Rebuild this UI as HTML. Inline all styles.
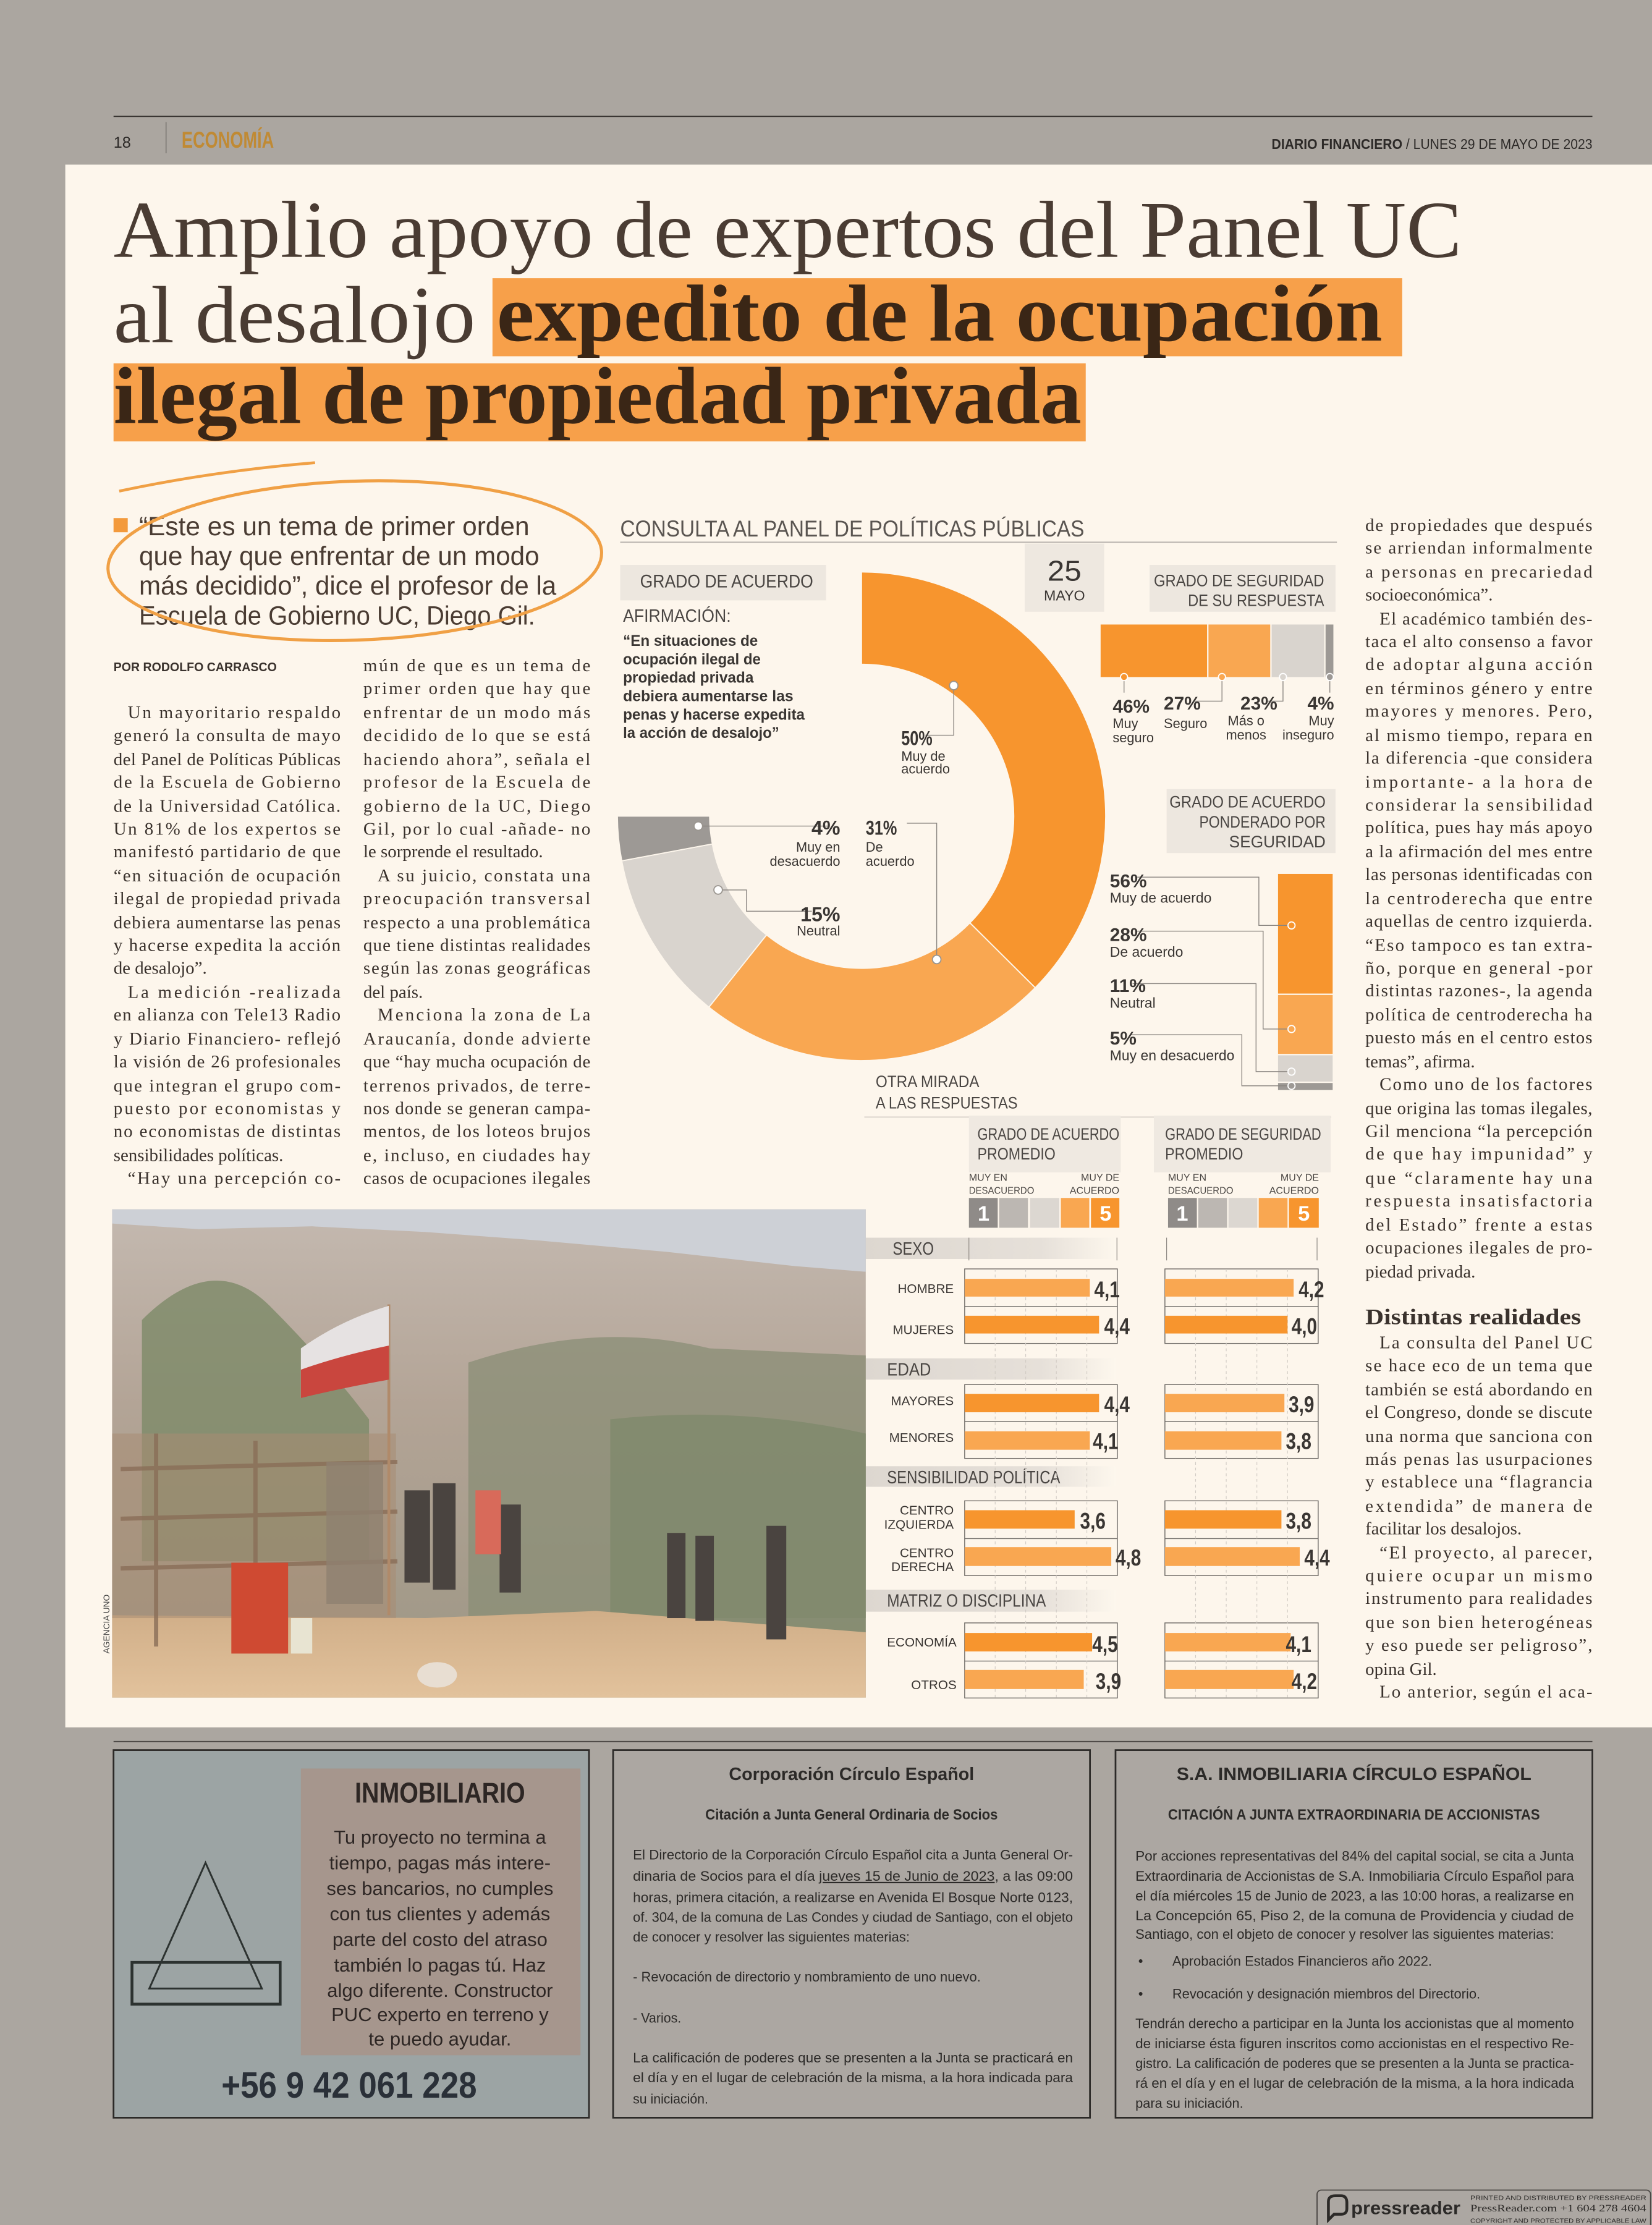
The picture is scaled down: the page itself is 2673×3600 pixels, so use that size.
<!DOCTYPE html>
<html><head><meta charset="utf-8"><style>
html,body{margin:0;padding:0;background:#aba6a0;}
svg{display:block}
.b{font-family:"Liberation Serif",serif;font-size:12.6px;fill:#3a322d}
.s{font-family:"Liberation Sans",sans-serif}
.ad{font-family:"Liberation Sans",sans-serif;font-size:9.6px;fill:#2c2a28}
</style></head><body>
<svg width="2673" height="3600" viewBox="0 0 1164 1567.6" preserveAspectRatio="none" xmlns="http://www.w3.org/2000/svg">
<defs>
<linearGradient id="band" x1="0" x2="1" y1="0" y2="0"><stop offset="0" stop-color="#ddd7d0"/><stop offset="0.7" stop-color="#e6e0d9"/><stop offset="1" stop-color="#fdf7ed"/></linearGradient>
<linearGradient id="hill" x1="0" x2="0" y1="0" y2="1"><stop offset="0" stop-color="#c4b9b0"/><stop offset="0.4" stop-color="#b3a496"/><stop offset="1" stop-color="#9c9684"/></linearGradient>
<linearGradient id="dirt" x1="0" x2="0" y1="0" y2="1"><stop offset="0" stop-color="#d0ae88"/><stop offset="1" stop-color="#e2c29c"/></linearGradient>
</defs>
<rect x="0" y="0" width="1164" height="1567.6" fill="#aba6a0"/>
<!-- header -->
<line x1="80" y1="82" x2="1122" y2="82" stroke="#3a3633" stroke-width="0.8"/>
<text x="80" y="104" class="s" font-size="11" fill="#2d2a28">18</text>
<line x1="117" y1="86" x2="117" y2="108" stroke="#6e6a66" stroke-width="0.6"/>
<text x="128" y="104" class="s" font-size="16" font-weight="bold" fill="#c08a34" textLength="65" lengthAdjust="spacingAndGlyphs">ECONOMÍA</text>
<text x="1122" y="105" class="s" font-size="10" fill="#2d2a28" text-anchor="end" textLength="226" lengthAdjust="spacingAndGlyphs"><tspan font-weight="bold">DIARIO FINANCIERO</tspan> / LUNES 29 DE MAYO DE 2023</text>
<!-- cream panel -->
<rect x="46" y="116" width="1118" height="1101" fill="#fdf6ec"/>
<!-- headline -->
<rect x="347" y="196" width="641" height="55" fill="#f7a04a"/>
<rect x="80" y="256" width="685" height="55" fill="#f7a04a"/>
<text x="80" y="181" font-family="Liberation Serif,serif" font-size="57" fill="#4a3c33" textLength="950" lengthAdjust="spacingAndGlyphs">Amplio apoyo de expertos del Panel UC</text>
<text x="80" y="241" font-family="Liberation Serif,serif" font-size="57" fill="#4a3c33" textLength="255" lengthAdjust="spacingAndGlyphs">al desalojo</text>
<text x="350" y="240" font-family="Liberation Serif,serif" font-size="57" font-weight="bold" fill="#3a2616" textLength="624" lengthAdjust="spacingAndGlyphs">expedito de la ocupación</text>
<text x="80" y="298" font-family="Liberation Serif,serif" font-size="57" font-weight="bold" fill="#3a2616" textLength="682" lengthAdjust="spacingAndGlyphs">ilegal de propiedad privada</text>
<!-- quote -->
<rect x="80" y="365" width="10" height="10" fill="#f39a3c"/>
<g class="s" font-size="18.5" fill="#4a3c33">
<text x="98" y="377" textLength="275" lengthAdjust="spacingAndGlyphs">“Este es un tema de primer orden</text>
<text x="98" y="398" textLength="282" lengthAdjust="spacingAndGlyphs">que hay que enfrentar de un modo</text>
<text x="98" y="419" textLength="294" lengthAdjust="spacingAndGlyphs">más decidido”, dice el profesor de la</text>
<text x="98" y="440" textLength="279" lengthAdjust="spacingAndGlyphs">Escuela de Gobierno UC, Diego Gil.</text>
</g>
<ellipse cx="250" cy="395" rx="174" ry="56" fill="none" stroke="#f0a045" stroke-width="2.2" transform="rotate(-2 250 395)"/>
<path d="M84 346 Q150 332 222 326" fill="none" stroke="#f0a045" stroke-width="2"/>
<path d="M130 420 L210 330" fill="none" stroke="#f0a045" stroke-width="1.5" opacity="0"/>
<!-- byline -->
<text x="80" y="473" class="s" font-size="9" font-weight="bold" fill="#3a322d" textLength="115" lengthAdjust="spacingAndGlyphs">POR RODOLFO CARRASCO</text>
<!-- column 1 -->
<g class="b">
<text x="90" y="506" textLength="150" lengthAdjust="spacing">Un mayoritario respaldo</text>
<text x="80" y="522" textLength="160" lengthAdjust="spacing">generó la consulta de mayo</text>
<text x="80" y="539" textLength="160" lengthAdjust="spacing">del Panel de Políticas Públicas</text>
<text x="80" y="555" textLength="160" lengthAdjust="spacing">de la Escuela de Gobierno</text>
<text x="80" y="572" textLength="160" lengthAdjust="spacing">de la Universidad Católica.</text>
<text x="80" y="588" textLength="160" lengthAdjust="spacing">Un 81% de los expertos se</text>
<text x="80" y="604" textLength="160" lengthAdjust="spacing">manifestó partidario de que</text>
<text x="80" y="621" textLength="160" lengthAdjust="spacing">“en situación de ocupación</text>
<text x="80" y="637" textLength="160" lengthAdjust="spacing">ilegal de propiedad privada</text>
<text x="80" y="654" textLength="160" lengthAdjust="spacing">debiera aumentarse las penas</text>
<text x="80" y="670" textLength="160" lengthAdjust="spacing">y hacerse expedita la acción</text>
<text x="80" y="686">de desalojo”.</text>
<text x="90" y="703" textLength="150" lengthAdjust="spacing">La medición -realizada</text>
<text x="80" y="719" textLength="160" lengthAdjust="spacing">en alianza con Tele13 Radio</text>
<text x="80" y="736" textLength="160" lengthAdjust="spacing">y Diario Financiero- reflejó</text>
<text x="80" y="752" textLength="160" lengthAdjust="spacing">la visión de 26 profesionales</text>
<text x="80" y="769" textLength="160" lengthAdjust="spacing">que integran el grupo com-</text>
<text x="80" y="785" textLength="160" lengthAdjust="spacing">puesto por economistas y</text>
<text x="80" y="801" textLength="160" lengthAdjust="spacing">no economistas de distintas</text>
<text x="80" y="818">sensibilidades políticas.</text>
<text x="90" y="834" textLength="150" lengthAdjust="spacing">“Hay una percepción co-</text>
</g>
<!-- column 2 -->
<g class="b">
<text x="256" y="473" textLength="160" lengthAdjust="spacing">mún de que es un tema de</text>
<text x="256" y="489" textLength="160" lengthAdjust="spacing">primer orden que hay que</text>
<text x="256" y="506" textLength="160" lengthAdjust="spacing">enfrentar de un modo más</text>
<text x="256" y="522" textLength="160" lengthAdjust="spacing">decidido de lo que se está</text>
<text x="256" y="539" textLength="160" lengthAdjust="spacing">haciendo ahora”, señala el</text>
<text x="256" y="555" textLength="160" lengthAdjust="spacing">profesor de la Escuela de</text>
<text x="256" y="572" textLength="160" lengthAdjust="spacing">gobierno de la UC, Diego</text>
<text x="256" y="588" textLength="160" lengthAdjust="spacing">Gil, por lo cual -añade- no</text>
<text x="256" y="604">le sorprende el resultado.</text>
<text x="266" y="621" textLength="150" lengthAdjust="spacing">A su juicio, constata una</text>
<text x="256" y="637" textLength="160" lengthAdjust="spacing">preocupación transversal</text>
<text x="256" y="654" textLength="160" lengthAdjust="spacing">respecto a una problemática</text>
<text x="256" y="670" textLength="160" lengthAdjust="spacing">que tiene distintas realidades</text>
<text x="256" y="686" textLength="160" lengthAdjust="spacing">según las zonas geográficas</text>
<text x="256" y="703">del país.</text>
<text x="266" y="719" textLength="150" lengthAdjust="spacing">Menciona la zona de La</text>
<text x="256" y="736" textLength="160" lengthAdjust="spacing">Araucanía, donde advierte</text>
<text x="256" y="752" textLength="160" lengthAdjust="spacing">que “hay mucha ocupación de</text>
<text x="256" y="769" textLength="160" lengthAdjust="spacing">terrenos privados, de terre-</text>
<text x="256" y="785" textLength="160" lengthAdjust="spacing">nos donde se generan campa-</text>
<text x="256" y="801" textLength="160" lengthAdjust="spacing">mentos, de los loteos brujos</text>
<text x="256" y="818" textLength="160" lengthAdjust="spacing">e, incluso, en ciudades hay</text>
<text x="256" y="834" textLength="160" lengthAdjust="spacing">casos de ocupaciones ilegales</text>
</g>
<!-- right column -->
<g class="b">
<text x="962" y="374" textLength="160" lengthAdjust="spacing">de propiedades que después</text>
<text x="962" y="390" textLength="160" lengthAdjust="spacing">se arriendan informalmente</text>
<text x="962" y="407" textLength="160" lengthAdjust="spacing">a personas en precariedad</text>
<text x="962" y="423">socioeconómica”.</text>
<text x="972" y="440" textLength="150" lengthAdjust="spacing">El académico también des-</text>
<text x="962" y="456" textLength="160" lengthAdjust="spacing">taca el alto consenso a favor</text>
<text x="962" y="472" textLength="160" lengthAdjust="spacing">de adoptar alguna acción</text>
<text x="962" y="489" textLength="160" lengthAdjust="spacing">en términos género y entre</text>
<text x="962" y="505" textLength="160" lengthAdjust="spacing">mayores y menores. Pero,</text>
<text x="962" y="522" textLength="160" lengthAdjust="spacing">al mismo tiempo, repara en</text>
<text x="962" y="538" textLength="160" lengthAdjust="spacing">la diferencia -que considera</text>
<text x="962" y="555" textLength="160" lengthAdjust="spacing">importante- a la hora de</text>
<text x="962" y="571" textLength="160" lengthAdjust="spacing">considerar la sensibilidad</text>
<text x="962" y="587" textLength="160" lengthAdjust="spacing">política, pues hay más apoyo</text>
<text x="962" y="604" textLength="160" lengthAdjust="spacing">a la afirmación del mes entre</text>
<text x="962" y="620" textLength="160" lengthAdjust="spacing">las personas identificadas con</text>
<text x="962" y="637" textLength="160" lengthAdjust="spacing">la centroderecha que entre</text>
<text x="962" y="653" textLength="160" lengthAdjust="spacing">aquellas de centro izquierda.</text>
<text x="962" y="670" textLength="160" lengthAdjust="spacing">“Eso tampoco es tan extra-</text>
<text x="962" y="686" textLength="160" lengthAdjust="spacing">ño, porque en general -por</text>
<text x="962" y="702" textLength="160" lengthAdjust="spacing">distintas razones-, la agenda</text>
<text x="962" y="719" textLength="160" lengthAdjust="spacing">política de centroderecha ha</text>
<text x="962" y="735" textLength="160" lengthAdjust="spacing">puesto más en el centro estos</text>
<text x="962" y="752">temas”, afirma.</text>
<text x="972" y="768" textLength="150" lengthAdjust="spacing">Como uno de los factores</text>
<text x="962" y="785" textLength="160" lengthAdjust="spacing">que origina las tomas ilegales,</text>
<text x="962" y="801" textLength="160" lengthAdjust="spacing">Gil menciona “la percepción</text>
<text x="962" y="817" textLength="160" lengthAdjust="spacing">de que hay impunidad” y</text>
<text x="962" y="834" textLength="160" lengthAdjust="spacing">que “claramente hay una</text>
<text x="962" y="850" textLength="160" lengthAdjust="spacing">respuesta insatisfactoria</text>
<text x="962" y="867" textLength="160" lengthAdjust="spacing">del Estado” frente a estas</text>
<text x="962" y="883" textLength="160" lengthAdjust="spacing">ocupaciones ilegales de pro-</text>
<text x="962" y="900">piedad privada.</text>
<text x="962" y="933" font-size="15.5" font-weight="bold" textLength="152" lengthAdjust="spacingAndGlyphs">Distintas realidades</text>
<text x="972" y="950" textLength="150" lengthAdjust="spacing">La consulta del Panel UC</text>
<text x="962" y="966" textLength="160" lengthAdjust="spacing">se hace eco de un tema que</text>
<text x="962" y="983" textLength="160" lengthAdjust="spacing">también se está abordando en</text>
<text x="962" y="999" textLength="160" lengthAdjust="spacing">el Congreso, donde se discute</text>
<text x="962" y="1016" textLength="160" lengthAdjust="spacing">una norma que sanciona con</text>
<text x="962" y="1032" textLength="160" lengthAdjust="spacing">más penas las usurpaciones</text>
<text x="962" y="1048" textLength="160" lengthAdjust="spacing">y establece una “flagrancia</text>
<text x="962" y="1065" textLength="160" lengthAdjust="spacing">extendida” de manera de</text>
<text x="962" y="1081">facilitar los desalojos.</text>
<text x="972" y="1098" textLength="150" lengthAdjust="spacing">“El proyecto, al parecer,</text>
<text x="962" y="1114" textLength="160" lengthAdjust="spacing">quiere ocupar un mismo</text>
<text x="962" y="1130" textLength="160" lengthAdjust="spacing">instrumento para realidades</text>
<text x="962" y="1147" textLength="160" lengthAdjust="spacing">que son bien heterogéneas</text>
<text x="962" y="1163" textLength="160" lengthAdjust="spacing">y eso puede ser peligroso”,</text>
<text x="962" y="1180">opina Gil.</text>
<text x="972" y="1196" textLength="150" lengthAdjust="spacing">Lo anterior, según el aca-</text>
</g>

<!-- INFOGRAPHIC -->
<text x="437" y="378" class="s" font-size="16" fill="#5a5551" textLength="327" lengthAdjust="spacingAndGlyphs">CONSULTA AL PANEL DE POLÍTICAS PÚBLICAS</text>
<line x1="437" y1="382" x2="942" y2="382" stroke="#b5b0aa" stroke-width="0.8"/>
<rect x="722" y="383" width="56" height="48" fill="#eee8e0"/>
<text x="750" y="409" class="s" font-size="20" fill="#3a3633" text-anchor="middle" textLength="24" lengthAdjust="spacingAndGlyphs">25</text>
<text x="750" y="423" class="s" font-size="10" fill="#3a3633" text-anchor="middle" textLength="29" lengthAdjust="spacingAndGlyphs">MAYO</text>
<rect x="437" y="398" width="145" height="25" fill="#ede7df"/>
<text x="451" y="414" class="s" font-size="13" fill="#4a4643" textLength="122" lengthAdjust="spacingAndGlyphs">GRADO DE ACUERDO</text>
<text x="439" y="438" class="s" font-size="12.5" fill="#4a4643" textLength="76" lengthAdjust="spacingAndGlyphs">AFIRMACIÓN:</text>
<g class="s" font-size="11" font-weight="bold" fill="#3a3633">
<text x="439" y="455" textLength="95" lengthAdjust="spacingAndGlyphs">“En situaciones de</text>
<text x="439" y="468" textLength="97" lengthAdjust="spacingAndGlyphs">ocupación ilegal de</text>
<text x="439" y="481" textLength="92" lengthAdjust="spacingAndGlyphs">propiedad privada</text>
<text x="439" y="494" textLength="120" lengthAdjust="spacingAndGlyphs">debiera aumentarse las</text>
<text x="439" y="507" textLength="128" lengthAdjust="spacingAndGlyphs">penas y hacerse expedita</text>
<text x="439" y="520" textLength="110" lengthAdjust="spacingAndGlyphs">la acción de desalojo”</text>
</g>
<!-- donut: center 607,575 R172 r107 ; 270deg total -->
<g stroke="#fdf6ec" stroke-width="0.8">
<path d="M607 403 A172 172 0 0 1 729.4 695.9 L683.4 650.2 A107 107 0 0 0 607 468 Z" fill="#f7952e"/>
<path d="M729.4 695.9 A172 172 0 0 1 499.5 709.6 L540.1 658.7 A107 107 0 0 0 683.4 650.2 Z" fill="#f9a751"/>
<path d="M499.5 709.6 A172 172 0 0 1 438.1 606.5 L501.9 594.6 A107 107 0 0 0 540.1 658.7 Z" fill="#d9d4ce"/>
<path d="M438.1 606.5 A172 172 0 0 1 435 575 L500 575 A107 107 0 0 0 501.9 594.6 Z" fill="#9d9995"/>
</g>
<g fill="none" stroke="#8a8580" stroke-width="0.6">
<polyline points="672,483 672,518 652,518"/>
<polyline points="492,582 584,582"/>
<polyline points="506,627 526,627 526,642 572,642"/>
<polyline points="639,580 660,580 660,676"/>
</g>
<g fill="#fff" stroke="#9a958f" stroke-width="0.8">
<circle cx="672" cy="483" r="3"/><circle cx="492" cy="582" r="3"/><circle cx="506" cy="627" r="3"/><circle cx="660" cy="676" r="3"/>
</g>
<g class="s" fill="#3a3633">
<text x="635" y="525" font-size="14" font-weight="bold" textLength="22" lengthAdjust="spacingAndGlyphs">50%</text>
<text x="635" y="536" font-size="9.5">Muy de</text>
<text x="635" y="545" font-size="9.5">acuerdo</text>
<text x="592" y="588" font-size="14" font-weight="bold" text-anchor="end">4%</text>
<text x="592" y="600" font-size="9.5" text-anchor="end">Muy en</text>
<text x="592" y="610" font-size="9.5" text-anchor="end">desacuerdo</text>
<text x="610" y="588" font-size="14" font-weight="bold" textLength="22" lengthAdjust="spacingAndGlyphs">31%</text>
<text x="610" y="600" font-size="9.5">De</text>
<text x="610" y="610" font-size="9.5">acuerdo</text>
<text x="592" y="649" font-size="14" font-weight="bold" text-anchor="end">15%</text>
<text x="592" y="659" font-size="9.5" text-anchor="end">Neutral</text>
</g>
<!-- grado de seguridad -->
<rect x="810" y="398" width="131" height="33" fill="#ede7df"/>
<text x="933" y="413" class="s" font-size="11.5" fill="#4a4643" text-anchor="end" textLength="120" lengthAdjust="spacingAndGlyphs">GRADO DE SEGURIDAD</text>
<text x="933" y="427" class="s" font-size="11.5" fill="#4a4643" text-anchor="end" textLength="96" lengthAdjust="spacingAndGlyphs">DE SU RESPUESTA</text>
<rect x="775.5" y="440" width="75" height="37" fill="#f7952e"/>
<rect x="851.5" y="440" width="43.5" height="37" fill="#f9a751"/>
<rect x="896" y="440" width="37" height="37" fill="#d9d4ce"/>
<rect x="934" y="440" width="5.5" height="37" fill="#9d9995"/>
<g fill="none" stroke="#8a8580" stroke-width="0.6">
<polyline points="861,477 861,494 842,494"/><polyline points="904,477 904,494 893,494"/><line x1="792" y1="477" x2="792" y2="488"/><line x1="937" y1="477" x2="937" y2="488"/>
</g>
<g stroke="#fff" stroke-width="0.8"><circle cx="792" cy="477" r="2.5" fill="#f7952e"/><circle cx="861" cy="477" r="2.5" fill="#f9a751"/><circle cx="904" cy="477" r="2.5" fill="#d9d4ce"/><circle cx="937" cy="477" r="2.5" fill="#9d9995"/></g>
<g class="s" fill="#3a3633" font-size="9.5">
<text x="784" y="502" font-size="13" font-weight="bold">46%</text><text x="784" y="513">Muy</text><text x="784" y="523">seguro</text>
<text x="820" y="500" font-size="13" font-weight="bold">27%</text><text x="820" y="513">Seguro</text>
<text x="874" y="500" font-size="13" font-weight="bold">23%</text><text x="878" y="511" text-anchor="middle">Más o</text><text x="878" y="521" text-anchor="middle">menos</text>
<text x="940" y="500" font-size="13" font-weight="bold" text-anchor="end">4%</text><text x="940" y="511" text-anchor="end">Muy</text><text x="940" y="521" text-anchor="end">inseguro</text>
</g>
<!-- ponderado -->
<rect x="822" y="556" width="119" height="45" fill="#ede7df"/>
<g class="s" font-size="11.5" fill="#4a4643" text-anchor="end">
<text x="934" y="569" textLength="110" lengthAdjust="spacingAndGlyphs">GRADO DE ACUERDO</text>
<text x="934" y="583" textLength="89" lengthAdjust="spacingAndGlyphs">PONDERADO POR</text>
<text x="934" y="597" textLength="68" lengthAdjust="spacingAndGlyphs">SEGURIDAD</text>
</g>
<rect x="900.5" y="615.7" width="38.5" height="84.3" fill="#f7952e"/>
<rect x="900.5" y="701" width="38.5" height="41.5" fill="#f9a751"/>
<rect x="900.5" y="743.5" width="38.5" height="18.5" fill="#d9d4ce"/>
<rect x="900.5" y="763" width="38.5" height="5" fill="#9d9995"/>
<g fill="none" stroke="#8a8580" stroke-width="0.6">
<polyline points="800,618 887,618 887,652 910,652"/>
<polyline points="800,656 890,656 890,725 910,725"/>
<polyline points="798,693 885,693 885,755 910,755"/>
<polyline points="796,729 875,729 875,765 910,765"/>
</g>
<g stroke="#fff" stroke-width="0.8"><circle cx="910" cy="652" r="2.5" fill="#f7952e"/><circle cx="910" cy="725" r="2.5" fill="#f9a751"/><circle cx="910" cy="755" r="2.5" fill="#d9d4ce"/><circle cx="910" cy="765" r="2.5" fill="#9d9995"/></g>
<g class="s" fill="#3a3633" font-size="10">
<text x="782" y="625" font-size="13" font-weight="bold">56%</text><text x="782" y="636">Muy de acuerdo</text>
<text x="782" y="663" font-size="13" font-weight="bold">28%</text><text x="782" y="674">De acuerdo</text>
<text x="782" y="699" font-size="13" font-weight="bold">11%</text><text x="782" y="710">Neutral</text>
<text x="782" y="736" font-size="13" font-weight="bold">5%</text><text x="782" y="747">Muy en desacuerdo</text>
</g>
<!-- otra mirada -->
<text x="617" y="766" class="s" font-size="11.5" fill="#4a4643" textLength="73" lengthAdjust="spacingAndGlyphs">OTRA MIRADA</text>
<text x="617" y="781" class="s" font-size="11.5" fill="#4a4643" textLength="100" lengthAdjust="spacingAndGlyphs">A LAS RESPUESTAS</text>
<line x1="609" y1="787" x2="938" y2="787" stroke="#c8c2bb" stroke-width="0.6"/>
<rect x="682.7" y="786" width="107" height="40" fill="#efe9e1"/>
<rect x="813" y="786" width="124.6" height="40" fill="#efe9e1"/>
<g class="s" font-size="11.5" fill="#4a4643">
<text x="688.7" y="803" textLength="100" lengthAdjust="spacingAndGlyphs">GRADO DE ACUERDO</text>
<text x="688.7" y="817" textLength="55" lengthAdjust="spacingAndGlyphs">PROMEDIO</text>
<text x="820.9" y="803" textLength="110" lengthAdjust="spacingAndGlyphs">GRADO DE SEGURIDAD</text>
<text x="820.9" y="817" textLength="55" lengthAdjust="spacingAndGlyphs">PROMEDIO</text>
</g>
<g class="s" font-size="7" fill="#4a4643">
<text x="682.7" y="832">MUY EN</text><text x="682.7" y="841" textLength="46" lengthAdjust="spacingAndGlyphs">DESACUERDO</text>
<text x="788.7" y="832" text-anchor="end">MUY DE</text><text x="788.7" y="841" text-anchor="end">ACUERDO</text>
<text x="823" y="832">MUY EN</text><text x="823" y="841" textLength="46" lengthAdjust="spacingAndGlyphs">DESACUERDO</text>
<text x="929.3" y="832" text-anchor="end">MUY DE</text><text x="929.3" y="841" text-anchor="end">ACUERDO</text>
</g>
<g>
<rect x="682.7" y="844" width="20.3" height="21" fill="#8f8b88"/><rect x="704" y="844" width="20.3" height="21" fill="#bcb7b2"/><rect x="725.8" y="844" width="20.6" height="21" fill="#dcd7d1"/><rect x="747.5" y="844" width="20" height="21" fill="#f9a751"/><rect x="768.7" y="844" width="20" height="21" fill="#f7952e"/>
<rect x="823" y="844" width="20.3" height="21" fill="#8f8b88"/><rect x="844.3" y="844" width="20.3" height="21" fill="#bcb7b2"/><rect x="865.6" y="844" width="20.3" height="21" fill="#dcd7d1"/><rect x="886.9" y="844" width="20.3" height="21" fill="#f9a751"/><rect x="908.2" y="844" width="21" height="21" fill="#f7952e"/>
</g>
<g class="s" font-size="15" font-weight="bold" fill="#fff" text-anchor="middle">
<text x="693" y="860">1</text><text x="779" y="860">5</text><text x="833" y="860">1</text><text x="918.7" y="860">5</text>
</g>
<!-- section bands -->
<rect x="610" y="872" width="176" height="15" fill="url(#band)"/>
<rect x="610" y="957" width="176" height="15" fill="url(#band)"/>
<rect x="610" y="1033" width="176" height="14.5" fill="url(#band)"/>
<rect x="610" y="1120" width="176" height="15.5" fill="url(#band)"/>
<g class="s" font-size="12.5" fill="#4a4643">
<text x="629" y="884" textLength="29" lengthAdjust="spacingAndGlyphs">SEXO</text>
<text x="625" y="969" textLength="31" lengthAdjust="spacingAndGlyphs">EDAD</text>
<text x="625" y="1045" textLength="122" lengthAdjust="spacingAndGlyphs">SENSIBILIDAD POLÍTICA</text>
<text x="625" y="1132" textLength="112" lengthAdjust="spacingAndGlyphs">MATRIZ O DISCIPLINA</text>
</g>
<g stroke="#8a8580" stroke-width="0.5" fill="none">
<line x1="682.7" y1="872" x2="682.7" y2="888"/><line x1="787" y1="872" x2="787" y2="888"/><line x1="822" y1="872" x2="822" y2="888"/><line x1="928" y1="872" x2="928" y2="888"/>
</g>
<!-- chart boxes: left L=679.7 W=107.6, right R=820.8 W=108 -->
<g fill="none" stroke="#6c6864" stroke-width="0.6">
<rect x="679.7" y="894" width="107.6" height="52.5"/><line x1="679.7" y1="920.5" x2="787.3" y2="920.5"/>
<rect x="679.7" y="975.5" width="107.6" height="52"/><line x1="679.7" y1="1001.5" x2="787.3" y2="1001.5"/>
<rect x="679.7" y="1057.4" width="107.6" height="52.6"/><line x1="679.7" y1="1084" x2="787.3" y2="1084"/>
<rect x="679.7" y="1143.4" width="107.6" height="52.9"/><line x1="679.7" y1="1170.3" x2="787.3" y2="1170.3"/>
<rect x="820.8" y="894" width="108" height="52.5"/><line x1="820.8" y1="920.5" x2="928.8" y2="920.5"/>
<rect x="820.8" y="975.5" width="108" height="52"/><line x1="820.8" y1="1001.5" x2="928.8" y2="1001.5"/>
<rect x="820.8" y="1057.4" width="108" height="52.6"/><line x1="820.8" y1="1084" x2="928.8" y2="1084"/>
<rect x="820.8" y="1143.4" width="108" height="52.9"/><line x1="820.8" y1="1170.3" x2="928.8" y2="1170.3"/>
</g>
<g stroke="#d2ccc5" stroke-width="0.5" stroke-dasharray="2 2">
<line x1="701.2" y1="894" x2="701.2" y2="1196"/><line x1="722.7" y1="894" x2="722.7" y2="1196"/><line x1="744.3" y1="894" x2="744.3" y2="1196"/><line x1="765.8" y1="894" x2="765.8" y2="1196"/>
<line x1="842.4" y1="894" x2="842.4" y2="1196"/><line x1="864" y1="894" x2="864" y2="1196"/><line x1="885.6" y1="894" x2="885.6" y2="1196"/><line x1="907.2" y1="894" x2="907.2" y2="1196"/>
</g>
<!-- left bars -->
<rect x="679.7" y="901" width="88.2" height="12.5" fill="#f9a751"/>
<rect x="679.7" y="927" width="94.7" height="12.5" fill="#f7952e"/>
<rect x="679.7" y="982" width="94.7" height="13" fill="#f7952e"/>
<rect x="679.7" y="1008.4" width="88.2" height="13" fill="#f9a751"/>
<rect x="679.7" y="1064" width="77.5" height="13" fill="#f7952e"/>
<rect x="679.7" y="1090" width="103.3" height="13.3" fill="#f9a751"/>
<rect x="679.7" y="1150.5" width="89.8" height="13" fill="#f7952e"/>
<rect x="679.7" y="1176.5" width="83.9" height="13.5" fill="#f9a751"/>
<!-- right bars -->
<rect x="820.8" y="901" width="90.7" height="12.5" fill="#f9a751"/>
<rect x="820.8" y="927" width="86.4" height="12.5" fill="#f7952e"/>
<rect x="820.8" y="982" width="84.2" height="13" fill="#f9a751"/>
<rect x="820.8" y="1008.4" width="82.1" height="13" fill="#f9a751"/>
<rect x="820.8" y="1064" width="82.1" height="13" fill="#f7952e"/>
<rect x="820.8" y="1090" width="95" height="13.3" fill="#f9a751"/>
<rect x="820.8" y="1150.5" width="88.6" height="13" fill="#f9a751"/>
<rect x="820.8" y="1176.5" width="90.7" height="13.5" fill="#f9a751"/>
<g class="s" font-size="16" font-weight="bold" fill="#3a3633">
<text x="771" y="914" textLength="18" lengthAdjust="spacingAndGlyphs">4,1</text>
<text x="778" y="940" textLength="18" lengthAdjust="spacingAndGlyphs">4,4</text>
<text x="778" y="995" textLength="18" lengthAdjust="spacingAndGlyphs">4,4</text>
<text x="770" y="1021" textLength="18" lengthAdjust="spacingAndGlyphs">4,1</text>
<text x="761" y="1077" textLength="18" lengthAdjust="spacingAndGlyphs">3,6</text>
<text x="786" y="1103" textLength="18" lengthAdjust="spacingAndGlyphs">4,8</text>
<text x="769.6" y="1164" textLength="18" lengthAdjust="spacingAndGlyphs">4,5</text>
<text x="772" y="1190" textLength="18" lengthAdjust="spacingAndGlyphs">3,9</text>
<text x="915" y="914" textLength="18" lengthAdjust="spacingAndGlyphs">4,2</text>
<text x="910" y="940" textLength="18" lengthAdjust="spacingAndGlyphs">4,0</text>
<text x="908" y="995" textLength="18" lengthAdjust="spacingAndGlyphs">3,9</text>
<text x="906" y="1021" textLength="18" lengthAdjust="spacingAndGlyphs">3,8</text>
<text x="906" y="1077" textLength="18" lengthAdjust="spacingAndGlyphs">3,8</text>
<text x="919" y="1103" textLength="18" lengthAdjust="spacingAndGlyphs">4,4</text>
<text x="906" y="1164" textLength="18" lengthAdjust="spacingAndGlyphs">4,1</text>
<text x="910" y="1190" textLength="18" lengthAdjust="spacingAndGlyphs">4,2</text>
</g>
<g class="s" font-size="9" fill="#3a3633" text-anchor="end">
<text x="672" y="911">HOMBRE</text>
<text x="672" y="940">MUJERES</text>
<text x="672" y="990">MAYORES</text>
<text x="672" y="1016">MENORES</text>
<text x="672" y="1067">CENTRO</text><text x="672" y="1077">IZQUIERDA</text>
<text x="672" y="1097">CENTRO</text><text x="672" y="1107">DERECHA</text>
<text x="674" y="1160">ECONOMÍA</text>
<text x="674" y="1190">OTROS</text>
</g>

<!-- PHOTO -->
<rect x="79" y="852" width="531" height="344" fill="url(#hill)"/>
<path d="M79 852 L610 852 L610 896 L560 892 L470 882 L380 874 L300 868 L220 864 L140 866 L79 862 Z" fill="#cdd0d6"/>
<path d="M330 960 Q420 930 500 950 L610 955 L610 1140 L330 1140 Z" fill="#8a8e76" opacity="0.75"/>
<path d="M430 1000 Q520 990 610 1010 L610 1150 L430 1150 Z" fill="#7c8769" opacity="0.7"/>
<path d="M100 930 Q150 880 190 920 Q230 960 260 1000 L260 1100 L100 1100 Z" fill="#7d8a68" opacity="0.8"/>
<path d="M79 1138 L300 1140 L420 1135 L610 1150 L610 1196 L79 1196 Z" fill="url(#dirt)"/>
<rect x="79" y="1010" width="200" height="130" fill="#a88c72" opacity="0.55"/>
<g stroke="#8a6e58" stroke-width="3" opacity="0.8"><line x1="85" y1="1035" x2="280" y2="1030"/><line x1="85" y1="1070" x2="280" y2="1065"/><line x1="85" y1="1105" x2="280" y2="1100"/><line x1="110" y1="1010" x2="110" y2="1160"/><line x1="180" y1="1015" x2="180" y2="1160"/></g>
<rect x="230" y="1030" width="40" height="100" fill="#8f8170" opacity="0.8"/>
<line x1="274" y1="919" x2="274" y2="1138" stroke="#b08a6a" stroke-width="2"/>
<path d="M212 950 Q240 930 274 920 L274 950 Q240 965 212 985 Z" fill="#e6e2e2"/>
<path d="M212 965 Q240 955 274 948 L274 972 Q240 978 212 985 Z" fill="#c9463e"/>
<rect x="163" y="1101" width="40" height="64" fill="#cf4a32"/>
<rect x="205" y="1140" width="15" height="25" fill="#e8e4d2"/>
<g fill="#4a4440"><rect x="285" y="1050" width="18" height="65"/><rect x="305" y="1045" width="16" height="75"/><rect x="352" y="1060" width="15" height="62"/><rect x="470" y="1080" width="13" height="60"/><rect x="490" y="1082" width="13" height="60"/><rect x="540" y="1075" width="14" height="80"/></g>
<rect x="335" y="1050" width="18" height="45" fill="#d86a5a"/>
<ellipse cx="308" cy="1180" rx="14" ry="9" fill="#e8ded2"/>
<text x="77" y="1165" class="s" font-size="6" fill="#444" transform="rotate(-90 77 1165)">AGENCIA UNO</text>

<!-- ADS -->
<line x1="80" y1="1227" x2="1122" y2="1227" stroke="#4a4643" stroke-width="0.8"/>
<rect x="80" y="1233" width="335" height="259" fill="#9ca4a4" stroke="#2c2a28" stroke-width="1.2"/>
<rect x="212" y="1246" width="197" height="202" fill="#a6968d"/>
<text x="310" y="1270" class="s" font-size="20" font-weight="bold" fill="#2d2624" text-anchor="middle" textLength="120" lengthAdjust="spacingAndGlyphs">INMOBILIARIO</text>
<g class="s" font-size="13.5" fill="#2d2624" text-anchor="middle">
<text x="310" y="1299">Tu proyecto no termina a</text>
<text x="310" y="1317">tiempo, pagas más intere-</text>
<text x="310" y="1335">ses bancarios, no cumples</text>
<text x="310" y="1353">con tus clientes y además</text>
<text x="310" y="1371">parte del costo del atraso</text>
<text x="310" y="1389">también lo pagas tú. Haz</text>
<text x="310" y="1407">algo diferente. Constructor</text>
<text x="310" y="1424">PUC experto en terreno y</text>
<text x="310" y="1441">te puedo ayudar.</text>
</g>
<text x="246" y="1478" class="s" font-size="26" font-weight="bold" fill="#2a3038" text-anchor="middle" textLength="180" lengthAdjust="spacingAndGlyphs">+56 9 42 061 228</text>
<path d="M144.8 1312.4 L105.2 1401 L184.5 1401 Z" fill="none" stroke="#2c3230" stroke-width="1.3"/>
<rect x="93" y="1382.6" width="104.4" height="29.4" fill="none" stroke="#2c3230" stroke-width="2"/>

<rect x="432" y="1233" width="336" height="259" fill="#aca7a2" stroke="#2c2a28" stroke-width="1.2"/>
<text x="600" y="1254" class="s" font-size="12.5" font-weight="bold" fill="#2c2a28" text-anchor="middle">Corporación Círculo Español</text>
<text x="600" y="1282" class="s" font-size="10.5" font-weight="bold" fill="#2c2a28" text-anchor="middle" textLength="206" lengthAdjust="spacingAndGlyphs">Citación a Junta General Ordinaria de Socios</text>
<g class="ad">
<text x="446" y="1310" textLength="310" lengthAdjust="spacingAndGlyphs">El Directorio de la Corporación Círculo Español cita a Junta General Or-</text>
<text x="446" y="1325" textLength="310" lengthAdjust="spacingAndGlyphs">dinaria de Socios para el día <tspan text-decoration="underline">jueves 15 de Junio de 2023</tspan>, a las 09:00</text>
<text x="446" y="1340" textLength="310" lengthAdjust="spacingAndGlyphs">horas, primera citación, a realizarse en Avenida El Bosque Norte 0123,</text>
<text x="446" y="1354" textLength="310" lengthAdjust="spacingAndGlyphs">of. 304, de la comuna de Las Condes y ciudad de Santiago, con el objeto</text>
<text x="446" y="1368" textLength="195" lengthAdjust="spacingAndGlyphs">de conocer y resolver las siguientes materias:</text>
<text x="446" y="1396" textLength="245" lengthAdjust="spacingAndGlyphs">- Revocación de directorio y nombramiento de uno nuevo.</text>
<text x="446" y="1425" textLength="34" lengthAdjust="spacingAndGlyphs">- Varios.</text>
<text x="446" y="1453" textLength="310" lengthAdjust="spacingAndGlyphs">La calificación de poderes que se presenten a la Junta se practicará en</text>
<text x="446" y="1467" textLength="310" lengthAdjust="spacingAndGlyphs">el día y en el lugar de celebración de la misma, a la hora indicada para</text>
<text x="446" y="1482" textLength="53" lengthAdjust="spacingAndGlyphs">su iniciación.</text>
</g>

<rect x="786" y="1233" width="336" height="259" fill="#aca7a2" stroke="#2c2a28" stroke-width="1.2"/>
<text x="954" y="1254" class="s" font-size="12.5" font-weight="bold" fill="#2c2a28" text-anchor="middle" textLength="250" lengthAdjust="spacingAndGlyphs">S.A. INMOBILIARIA CÍRCULO ESPAÑOL</text>
<text x="954" y="1282" class="s" font-size="10.5" font-weight="bold" fill="#2c2a28" text-anchor="middle" textLength="262" lengthAdjust="spacingAndGlyphs">CITACIÓN A JUNTA EXTRAORDINARIA DE ACCIONISTAS</text>
<g class="ad">
<text x="800" y="1311" textLength="309" lengthAdjust="spacingAndGlyphs">Por acciones representativas del 84% del capital social, se cita a Junta</text>
<text x="800" y="1325" textLength="309" lengthAdjust="spacingAndGlyphs">Extraordinaria de Accionistas de S.A. Inmobiliaria Círculo Español para</text>
<text x="800" y="1339" textLength="309" lengthAdjust="spacingAndGlyphs">el día miércoles 15 de Junio de 2023, a las 10:00 horas, a realizarse en</text>
<text x="800" y="1353" textLength="309" lengthAdjust="spacingAndGlyphs">La Concepción 65, Piso 2, de la comuna de Providencia y ciudad de</text>
<text x="800" y="1366" textLength="295" lengthAdjust="spacingAndGlyphs">Santiago, con el objeto de conocer y resolver las siguientes materias:</text>
<text x="802" y="1385">•</text><text x="826" y="1385" textLength="183" lengthAdjust="spacingAndGlyphs">Aprobación Estados Financieros año 2022.</text>
<text x="802" y="1408">•</text><text x="826" y="1408" textLength="217" lengthAdjust="spacingAndGlyphs">Revocación y designación miembros del Directorio.</text>
<text x="800" y="1429" textLength="309" lengthAdjust="spacingAndGlyphs">Tendrán derecho a participar en la Junta los accionistas que al momento</text>
<text x="800" y="1443" textLength="309" lengthAdjust="spacingAndGlyphs">de iniciarse ésta figuren inscritos como accionistas en el respectivo Re-</text>
<text x="800" y="1457" textLength="309" lengthAdjust="spacingAndGlyphs">gistro. La calificación de poderes que se presenten a la Junta se practica-</text>
<text x="800" y="1471" textLength="309" lengthAdjust="spacingAndGlyphs">rá en el día y en el lugar de celebración de la misma, a la hora indicada</text>
<text x="800" y="1485" textLength="76" lengthAdjust="spacingAndGlyphs">para su iniciación.</text>
</g>

<!-- pressreader -->
<rect x="928" y="1543" width="235" height="30" rx="3" fill="#aca7a2" stroke="#4a4643" stroke-width="0.8"/>
<path d="M936 1564 L936 1551 Q936 1547 941 1547 L945 1547 Q949 1547 949 1552 L949 1556 Q949 1560 945 1560 L940 1560 Z" fill="none" stroke="#2c2a28" stroke-width="2"/>
<text x="952" y="1560" class="s" font-size="13" font-weight="bold" fill="#2c2a28" textLength="77" lengthAdjust="spacingAndGlyphs">pressreader</text>
<text x="1036" y="1550" class="s" font-size="4.5" fill="#2c2a28" textLength="124" lengthAdjust="spacingAndGlyphs">PRINTED AND DISTRIBUTED BY PRESSREADER</text>
<text x="1036" y="1558" font-family="Liberation Serif,serif" font-size="7" fill="#2c2a28" textLength="124" lengthAdjust="spacingAndGlyphs">PressReader.com +1 604 278 4604</text>
<text x="1036" y="1566" class="s" font-size="4.5" fill="#2c2a28" textLength="124" lengthAdjust="spacingAndGlyphs">COPYRIGHT AND PROTECTED BY APPLICABLE LAW</text>
</svg>
</body></html>
